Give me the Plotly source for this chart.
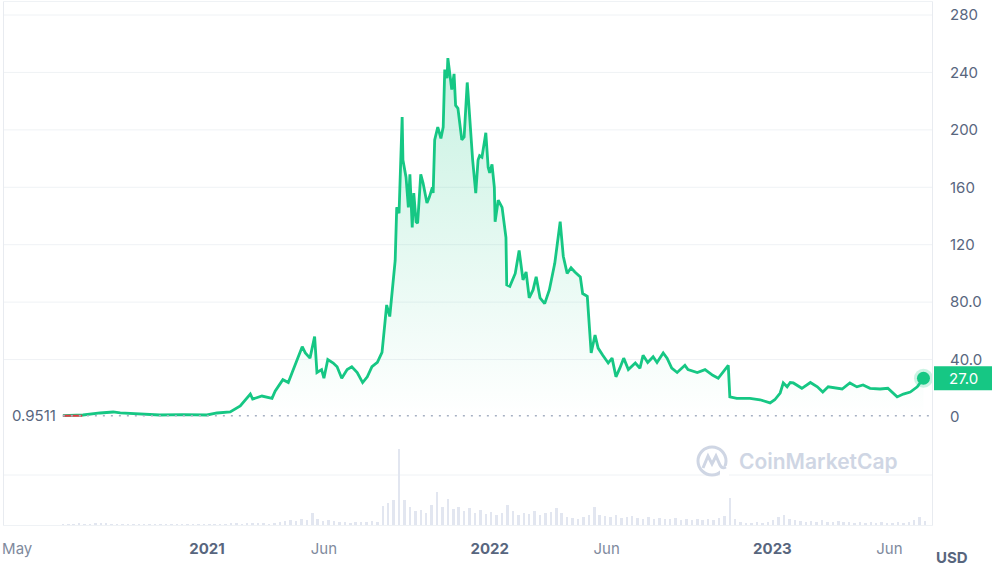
import plotly.graph_objects as go
import pandas as pd

# ---------------- data ----------------
price_dates = [
    "2020-06-29", "2020-07-25", "2020-08-16", "2020-09-02", "2020-09-11", "2020-10-06", "2020-11-01",
    "2020-12-01", "2021-01-01", "2021-01-14", "2021-01-31", "2021-02-13", "2021-02-26", "2021-03-01",
    "2021-03-13", "2021-03-26", "2021-03-30", "2021-04-09", "2021-04-16", "2021-04-21", "2021-04-29",
    "2021-05-04", "2021-05-08", "2021-05-14", "2021-05-20", "2021-05-23", "2021-05-29", "2021-06-01",
    "2021-06-06", "2021-06-13", "2021-06-18", "2021-06-24", "2021-07-01", "2021-07-07", "2021-07-14",
    "2021-07-21", "2021-07-27", "2021-08-02", "2021-08-09", "2021-08-15", "2021-08-19", "2021-08-21",
    "2021-08-25", "2021-08-29", "2021-09-01", "2021-09-03", "2021-09-06", "2021-09-10", "2021-09-11",
    "2021-09-15", "2021-09-18", "2021-09-20", "2021-09-23", "2021-09-25", "2021-09-28", "2021-09-30",
    "2021-10-04", "2021-10-07", "2021-10-12", "2021-10-15", "2021-10-19", "2021-10-20", "2021-10-22",
    "2021-10-26", "2021-10-30", "2021-11-02", "2021-11-04", "2021-11-07", "2021-11-08", "2021-11-11",
    "2021-11-13", "2021-11-16", "2021-11-18", "2021-11-21", "2021-11-26", "2021-11-29", "2021-12-03",
    "2021-12-04", "2021-12-08", "2021-12-10", "2021-12-14", "2021-12-17", "2021-12-19", "2021-12-22",
    "2021-12-25", "2021-12-27", "2021-12-30", "2022-01-01", "2022-01-04", "2022-01-07", "2022-01-08",
    "2022-01-12", "2022-01-17", "2022-01-22", "2022-01-23", "2022-01-27", "2022-02-03", "2022-02-08",
    "2022-02-13", "2022-02-17", "2022-02-21", "2022-02-26", "2022-03-02", "2022-03-07", "2022-03-13",
    "2022-03-19", "2022-03-26", "2022-04-02", "2022-04-06", "2022-04-11", "2022-04-16", "2022-04-21",
    "2022-04-28", "2022-05-01", "2022-05-07", "2022-05-12", "2022-05-17", "2022-05-21", "2022-05-27",
    "2022-06-03", "2022-06-08", "2022-06-13", "2022-06-18", "2022-06-23", "2022-06-29", "2022-07-08",
    "2022-07-14", "2022-07-18", "2022-07-24", "2022-07-31", "2022-08-05", "2022-08-13", "2022-08-18",
    "2022-08-24", "2022-08-31", "2022-09-10", "2022-09-14", "2022-09-26", "2022-10-06", "2022-10-16",
    "2022-10-23", "2022-10-29", "2022-11-05", "2022-11-07", "2022-11-16", "2022-11-24", "2022-12-03",
    "2022-12-16", "2022-12-29", "2023-01-04", "2023-01-11", "2023-01-15", "2023-01-20", "2023-01-24",
    "2023-01-28", "2023-02-08", "2023-02-19", "2023-02-28", "2023-03-07", "2023-03-14", "2023-03-23",
    "2023-04-01", "2023-04-11", "2023-04-20", "2023-04-28", "2023-05-07", "2023-05-20", "2023-05-30",
    "2023-06-11", "2023-06-19", "2023-06-28", "2023-07-07", "2023-07-15",
]
price_values = [
    0.95, 1.4, 2.8, 3.5, 2.8, 2.0, 1.4,
    1.7, 1.4, 2.8, 3.5, 7.7, 16.0, 12.5,
    14.6, 13.0, 18.0, 26.0, 24.0, 31.0, 43.0,
    49.0, 44.6, 41.0, 56.0, 31.0, 33.0, 27.0,
    40.0, 37.6, 35.0, 27.0, 33.0, 35.0, 31.0,
    24.0, 28.0, 35.0, 38.0, 45.0, 67.0, 78.0,
    70.0, 93.0, 109.0, 146.0, 142.0, 209.0, 179.0,
    167.0, 146.0, 169.0, 132.0, 156.0, 136.0, 135.0,
    169.0, 163.0, 149.0, 153.0, 160.0, 156.0, 193.0,
    202.0, 194.0, 202.0, 242.0, 236.0, 250.0, 237.0,
    228.0, 239.0, 217.0, 215.0, 193.0, 195.0, 233.0,
    226.0, 194.0, 179.0, 156.0, 179.0, 182.0, 181.0,
    191.0, 198.0, 174.0, 170.0, 176.0, 160.0, 136.0,
    151.0, 146.0, 125.0, 92.0, 91.0, 100.0, 116.0,
    95.5, 101.0, 83.0, 88.5, 97.6, 83.0, 79.0,
    88.5, 107.0, 136.0, 112.0, 100.0, 104.0, 101.0,
    97.6, 86.0, 84.0, 44.6, 57.0, 48.0, 43.0,
    37.6, 41.0, 28.0, 34.0, 41.0, 33.0, 37.6,
    34.0, 43.0, 38.0, 42.0, 38.0, 44.6, 41.0,
    34.0, 31.0, 36.0, 33.0, 31.0, 33.0, 29.0,
    27.0, 31.0, 36.0, 14.0, 13.0, 13.0, 13.0,
    12.0, 9.8, 12.0, 16.7, 23.7, 21.0, 24.0,
    23.7, 20.0, 24.0, 21.0, 17.4, 21.0, 20.0,
    19.5, 23.7, 21.0, 22.3, 20.0, 19.5, 20.0,
    14.0, 16.0, 17.4, 21.0, 27.0,
]

# segment below the opening price (drawn red)
below_dates = ["2020-06-29", "2020-07-24"]
below_values = [0.9, 0.9]

start_price = 0.9511
last_price = 27.0

# weekly volume (millions USD, estimated)
volume_start = "2020-06-29"
volume_values = [
    10, 10, 10, 15, 10, 10, 15, 20, 15, 10, 10, 10, 10, 10, 5, 5, 10, 10, 5, 5,
    5, 5, 5, 5, 5, 5, 5, 5, 10, 10, 10, 15, 15, 10, 15, 15, 15, 15, 10, 15,
    30, 40, 50, 40, 60, 50, 120, 60, 40, 50, 40, 30, 30, 20, 30, 30, 30, 40, 30, 190,
    220, 250, 760, 250, 180, 140, 150, 120, 200, 330, 180, 260, 160, 180, 140, 170, 120, 150, 110, 130,
    100, 120, 200, 140, 100, 120, 110, 140, 100, 120, 130, 170, 120, 80, 70, 60, 80, 100, 180, 100,
    90, 80, 100, 70, 80, 90, 70, 60, 80, 60, 70, 60, 60, 70, 50, 60, 50, 60, 50, 60,
    50, 70, 90, 270, 60, 30, 20, 20, 30, 20, 30, 50, 80, 100, 60, 50, 40, 30, 40, 30,
    50, 30, 30, 40, 30, 30, 20, 30, 20, 30, 20, 30, 20, 20, 30, 20, 30, 50, 80, 40,
]
volume_dates = pd.date_range(volume_start, periods=len(volume_values), freq="7D")

y_ticks = [0, 40, 80, 120, 160, 200, 240, 280]
y_ticktext = ["0", "40.0", "80.0", "120", "160", "200", "240", "280"]

x_ticks = ["2020-05-01", "2021-01-01", "2021-06-01", "2022-01-01", "2022-06-01", "2023-01-01", "2023-06-01"]
x_ticktext = ["May", "2021", "Jun", "2022", "Jun", "2023", "Jun"]
x_is_year = [False, True, False, True, False, True, False]

# ---------------- style ----------------
GREEN = "#16c784"
GRAY = "#58667e"
LIGHT = "#eff2f5"
WM = "#cfd6e4"
FONT = "Inter"

W, H = 992, 573
ML, MR, MT, MB = 4, 60, 2, 48
PW, PH = W - ML - MR, H - MT - MB

fig = go.Figure()

fig.add_trace(go.Bar(
    x=volume_dates, y=volume_values, yaxis="y2",
    marker=dict(color="#e2e6f0", line=dict(width=0)),
    width=3.2 * 24 * 3600 * 1000, hoverinfo="skip", showlegend=False,
))

fig.add_trace(go.Scatter(
    x=price_dates, y=price_values, mode="lines",
    line=dict(color=GREEN, width=2.8, shape="linear"),
    fill="tozeroy",
    fillgradient=dict(
        type="vertical",
        colorscale=[[0, "rgba(22,199,132,0.0)"], [1, "rgba(22,199,132,0.24)"]],
        start=0, stop=250,
    ),
    hoverinfo="skip", showlegend=False,
))

fig.add_trace(go.Scatter(
    x=below_dates, y=below_values, mode="lines",
    line=dict(color="#ea3943", width=2), hoverinfo="skip", showlegend=False,
))

fig.add_trace(go.Scatter(
    x=[price_dates[-1]], y=[price_values[-1]], mode="markers",
    marker=dict(size=19, color="rgba(22,199,132,0.22)"),
    hoverinfo="skip", showlegend=False,
))
fig.add_trace(go.Scatter(
    x=[price_dates[-1]], y=[price_values[-1]], mode="markers",
    marker=dict(size=13, color=GREEN),
    hoverinfo="skip", showlegend=False,
))

shapes = []
# horizontal gridlines (no line at 0)
for v in y_ticks[1:]:
    shapes.append(dict(type="line", xref="paper", yref="y", x0=0, x1=1, y0=v, y1=v,
                       line=dict(color=LIGHT, width=1), layer="below"))
# volume gridline
shapes.append(dict(type="line", xref="paper", yref="paper", x0=0, x1=1,
                   y0=50 / PH, y1=50 / PH, line=dict(color=LIGHT, width=1), layer="below"))
# dotted opening-price line
shapes.append(dict(type="line", xref="x", yref="y", x0=price_dates[0], x1="2023-07-26",
                   y0=start_price, y1=start_price,
                   line=dict(color="#a6b0c3", width=1.5, dash="2px,6px")))
# last price tag
px_per_unit = 402 / 280
shapes.append(dict(type="rect", xref="paper", yref="y",
                   x0=1 + 2 / PW, x1=1 + 60 / PW,
                   y0=last_price - 12 / px_per_unit, y1=last_price + 12 / px_per_unit,
                   fillcolor=GREEN, line=dict(width=0)))
# CoinMarketCap logo (watermark)
lx = (712 - ML) / PW
ly = (525 - 461) / PH
shapes.append(dict(type="circle", xref="paper", yref="paper", xsizemode="pixel", ysizemode="pixel",
                   xanchor=lx, yanchor=ly, x0=-14, x1=14, y0=-14, y1=14,
                   line=dict(color=WM, width=3)))
shapes.append(dict(type="rect", xref="paper", yref="paper", xsizemode="pixel", ysizemode="pixel",
                   xanchor=lx, yanchor=ly, x0=8, x1=17, y0=-17, y1=-5,
                   fillcolor="white", line=dict(width=0)))
shapes.append(dict(type="path", xref="paper", yref="paper", xsizemode="pixel", ysizemode="pixel",
                   xanchor=lx, yanchor=ly,
                   path="M -9,-7 L -4,5 L 0,-3 L 4,5 L 8,-4 Q 10,-8 14,-6",
                   line=dict(color=WM, width=3)))

annotations = [
    dict(xref="paper", yref="y", x=(58 - ML) / PW, y=start_price, xanchor="right", yanchor="middle",
         text="0.9511", showarrow=False, font=dict(family=FONT, size=15, color=GRAY)),
    dict(xref="paper", yref="y", x=(947 - ML) / PW, y=last_price, xanchor="left", yanchor="middle",
         text="27.0", showarrow=False, font=dict(family=FONT, size=15, color="white")),
    dict(xref="paper", yref="paper", x=(952 - ML) / PW, y=-(557 - 525) / PH, xanchor="center",
         yanchor="middle", text="<b>USD</b>", showarrow=False, font=dict(family=FONT, size=15, color=GRAY)),
    dict(xref="paper", yref="paper", x=(737 - ML) / PW, y=ly, xanchor="left", yanchor="middle",
         text="CoinMarketCap", showarrow=False,
         font=dict(family=FONT, size=21, color=WM, weight=600)),
]

tt = []
for lbl, yr in zip(x_ticktext, x_is_year):
    if yr:
        tt.append(f"<b>{lbl}</b>")
    else:
        tt.append(f"<span style='color:#808a9d'>{lbl}</span>")

lo = -(525 - 417) * 280 / 402
hi = 280 + (417 - 2 - 402) * 280 / 402

fig.update_layout(
    width=W, height=H,
    margin=dict(l=ML, r=MR, t=MT, b=MB, pad=0),
    paper_bgcolor="white", plot_bgcolor="white",
    font=dict(family=FONT, size=15, color=GRAY),
    hovermode=False, showlegend=False, bargap=0,
    xaxis=dict(
        type="date", range=["2020-04-14", "2023-07-26"],
        tickvals=x_ticks, ticktext=tt, showgrid=False, zeroline=False,
        showline=True, mirror=True, linecolor=LIGHT, linewidth=1,
        ticks="", ticklabelstandoff=10, tickfont=dict(family=FONT, size=15, color=GRAY),
    ),
    yaxis=dict(
        side="right", range=[lo, hi], tickvals=y_ticks, ticktext=y_ticktext,
        showgrid=False, zeroline=False, showline=True, mirror=True, linecolor="#e8ebf0",
        ticks="", ticklabelstandoff=14, tickfont=dict(family=FONT, size=15, color=GRAY),
    ),
    yaxis2=dict(overlaying="y", range=[0, 10 * PH], visible=False, fixedrange=True),
    shapes=shapes, annotations=annotations,
)

fig.write_html("out.html")
